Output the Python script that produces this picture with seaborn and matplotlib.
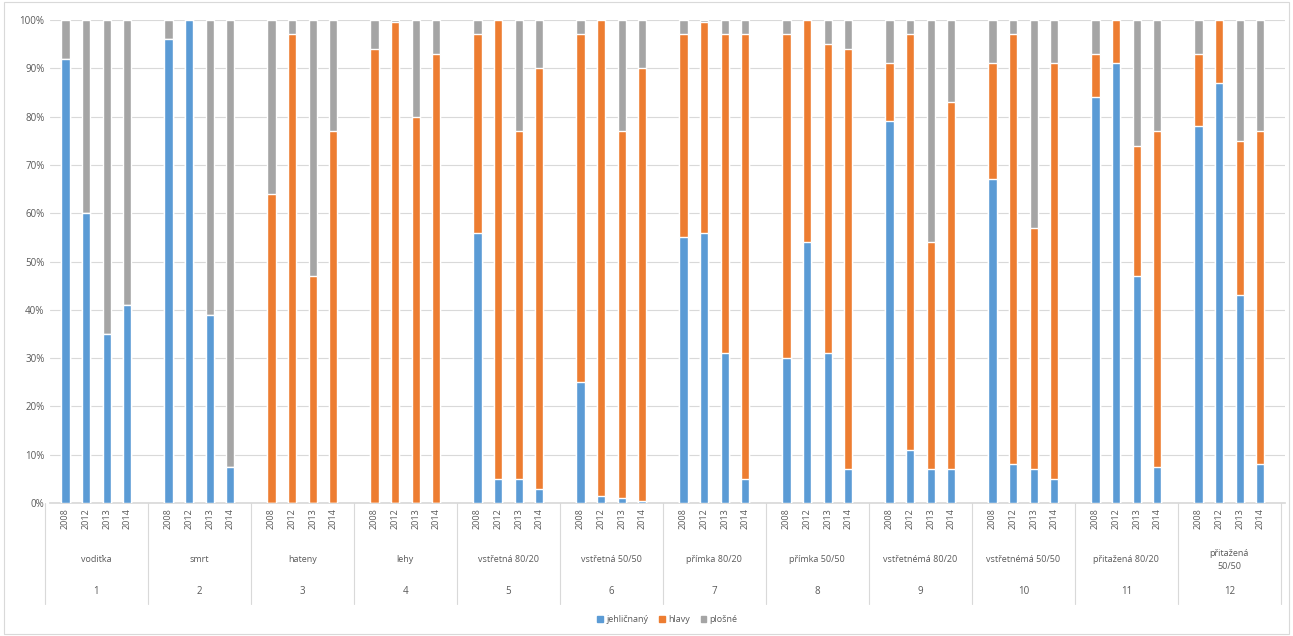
import numpy as np
import pandas as pd
import matplotlib
matplotlib.use('Agg')
import matplotlib.pyplot as plt
from matplotlib.patches import Patch
import seaborn as sns

# data (percent of each bar)
groups = ['vodiťka', 'smrt', 'hateny', 'lehy', 'vstřetná 80/20', 'vstřetná 50/50',
          'přímka 80/20', 'přímka 50/50', 'vstřetnémá 80/20', 'vstřetnémá 50/50',
          'přitažená 80/20', 'přitažená\n50/50']
group_nums = ['1', '2', '3', '4', '5', '6', '7', '8', '9', '10', '11', '12']
years = ['2008', '2012', '2013', '2014']
series_names = ['jehličnaný', 'hlavy', 'plošné']

blue = [92, 60, 35, 41,
        96, 100, 39, 7.5,
        0, 0, 0, 0,
        0, 0, 0, 0,
        56, 5, 5, 3,
        25, 1.5, 1, 0.5,
        55, 56, 31, 5,
        30, 54, 31, 7,
        79, 11, 7, 7,
        67, 8, 7, 5,
        84, 91, 47, 7.5,
        78, 87, 43, 8]
orange = [0, 0, 0, 0,
          0, 0, 0, 0,
          64, 97, 47, 77,
          94, 99.5, 80, 93,
          41, 95, 72, 87,
          72, 98.5, 76, 89.5,
          42, 43.5, 66, 92,
          67, 46, 64, 87,
          12, 86, 47, 76,
          24, 89, 50, 86,
          9, 9, 27, 69.5,
          15, 13, 32, 69]
gray = [8, 40, 65, 59,
        4, 0, 61, 92.5,
        36, 3, 53, 23,
        6, 0.5, 20, 7,
        3, 0, 23, 10,
        3, 0, 23, 10,
        3, 0.5, 3, 3,
        3, 0, 5, 6,
        9, 3, 46, 17,
        9, 3, 43, 9,
        7, 0, 26, 23,
        7, 0, 25, 23]

colors = ['#5B9BD5', '#ED7D31', '#A5A5A5']

n_g = len(groups)
n_y = len(years)
df = pd.DataFrame({
    'group': np.repeat(np.arange(n_g), n_y),
    'year': np.tile(years, n_g),
    'blue': blue, 'orange': orange, 'gray': gray,
})
df['pos'] = df['group'] * (n_y + 1) + np.tile(np.arange(n_y), n_g)
df['b_top'] = df['blue']
df['o_top'] = df['blue'] + df['orange']
df['g_top'] = df['o_top'] + df['gray']

sns.set_theme(style='white')
plt.rcParams['font.family'] = ['Open Sans', 'DejaVu Sans']
txt_col = '#595959'

fig = plt.figure(figsize=(12.93, 6.36), dpi=100)
ax = fig.add_axes([50 / 1293, 133 / 636, 1235 / 1293, 483 / 636])

for col, c in zip(['g_top', 'o_top', 'b_top'], [colors[2], colors[1], colors[0]]):
    sns.barplot(data=df, x='pos', y=col, native_scale=True, width=0.4,
                color=c, errorbar=None, ax=ax, saturation=1, zorder=3)

ax.set_ylim(0, 100)
ax.set_xlim(-0.75, df['pos'].max() + 1.2)
ax.set_yticks(np.arange(0, 101, 10))
ax.set_yticklabels([f'{v}%' for v in range(0, 101, 10)], fontsize=7, color=txt_col)
ax.yaxis.grid(True, color='#D9D9D9', linewidth=0.8, zorder=0)
ax.set_axisbelow(True)
ax.set_xticks(df['pos'])
ax.set_xticklabels(df['year'], rotation=90, fontsize=6.5, color=txt_col)
ax.tick_params(axis='both', length=0, pad=4)
ax.set_xlabel('')
ax.set_ylabel('')
for s in ['top', 'right', 'left']:
    ax.spines[s].set_visible(False)
ax.spines['bottom'].set_color('#D9D9D9')

# multi-level category labels
trans = ax.get_xaxis_transform()
for g in range(n_g):
    center = g * (n_y + 1) + (n_y - 1) / 2
    ax.text(center, -0.118, groups[g], transform=trans, ha='center', va='center',
            fontsize=6.5, color=txt_col, linespacing=1.6)
    ax.text(center, -0.184, group_nums[g], transform=trans, ha='center', va='center',
            fontsize=7, color=txt_col)
for g in range(n_g + 1):
    xs = g * (n_y + 1) - 1
    ax.plot([xs, xs], [0, -0.21], transform=trans, color='#D9D9D9', lw=0.8, clip_on=False)

handles = [Patch(color=c, label=l) for c, l in zip(colors, series_names)]
leg = ax.legend(handles=handles, loc='center', bbox_to_anchor=(0.5, -0.242), ncol=3,
                frameon=False, fontsize=6.5, handlelength=0.6, handleheight=0.6,
                columnspacing=1.2, handletextpad=0.4)
for t in leg.get_texts():
    t.set_color(txt_col)

fig.patches.append(plt.Rectangle((0.003, 0.003), 0.994, 0.994, transform=fig.transFigure,
                                 fill=False, edgecolor='#D9D9D9', lw=0.8))
fig.savefig('out.png', dpi=100)
